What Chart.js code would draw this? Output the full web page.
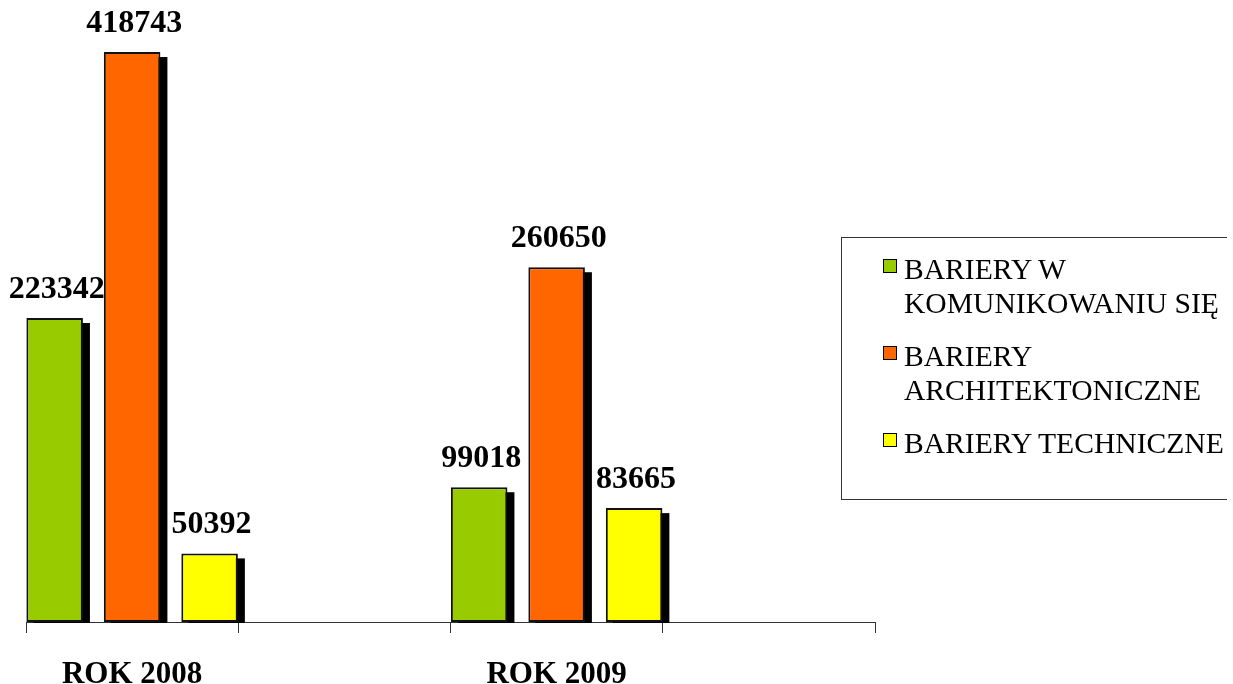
<!DOCTYPE html>
<html>
<head>
<meta charset="utf-8">
<script src="https://cdn.jsdelivr.net/npm/chart.js@4"></script>
<style>
  body { margin: 0; background: #fff; overflow: hidden; }
  #wrap { position: relative; width: 1233px; height: 684px; }
  #legend {
    position: absolute; left: 841px; top: 237px; width: 386px; height: 263px;
    border: 1px solid #333; border-right: none; box-sizing: border-box; padding-top: 14px;
    font-family: "Liberation Serif", serif; font-size: 29.6px; color: #000;
  }
  .item { position: relative; padding-left: 62px; width: 330px; line-height: 34px; margin-bottom: 19px; }
  .sw { position: absolute; left: 41px; top: 7px; width: 12px; height: 12px; border: 1.5px solid #000; }
</style>
</head>
<body>
<div id="wrap">
  <canvas id="myChart" width="1233" height="684"></canvas>
  <div id="legend"></div>
</div>
<script>
const years = ['ROK 2008', 'ROK 2009'];
const seriesNames = ['BARIERY W KOMUNIKOWANIU SIĘ', 'BARIERY ARCHITEKTONICZNE', 'BARIERY TECHNICZNE'];
const komunikowanie = [223342, 99018];
const architektoniczne = [418743, 260650];
const techniczne = [50392, 83665];
const colors = ['#99cc00', '#ff6600', '#ffff00'];

// each year gets an empty slot after it, like the original axis
const labels = years.flatMap(y => [y, '']);
const spread = arr => arr.flatMap(v => [v, null]);

// black drop shadow behind every bar
const shadow = {
  id: 'shadow',
  beforeDatasetsDraw(chart) {
    const ctx = chart.ctx;
    const area = chart.chartArea;
    ctx.save();
    ctx.beginPath();
    ctx.rect(0, 0, chart.width, area.bottom + 1);
    ctx.clip();
    ctx.fillStyle = '#000';
    chart.data.datasets.forEach((ds, i) => {
      chart.getDatasetMeta(i).data.forEach((bar, j) => {
        if (ds.data[j] == null) return;
        const p = bar.getProps(['x', 'y', 'base', 'width']);
        ctx.fillRect(p.x - p.width / 2 + 7, p.y + 5, p.width, p.base - p.y);
      });
    });
    ctx.restore();
  }
};

const valueLabels = {
  id: 'valueLabels',
  afterDraw(chart) {
    const ctx = chart.ctx;
    ctx.save();
    ctx.font = 'bold 32px "Liberation Serif"';
    ctx.fillStyle = '#000';
    ctx.textAlign = 'center';
    ctx.textBaseline = 'alphabetic';
    chart.data.datasets.forEach((ds, i) => {
      chart.getDatasetMeta(i).data.forEach((bar, j) => {
        if (ds.data[j] == null) return;
        ctx.fillText(ds.data[j], bar.x + 2, bar.y - 20);
      });
    });
    ctx.restore();
  }
};

const config = {
  type: 'bar',
  data: {
    labels: labels,
    datasets: [
      { label: seriesNames[0], data: spread(komunikowanie), backgroundColor: colors[0] },
      { label: seriesNames[1], data: spread(architektoniczne), backgroundColor: colors[1] },
      { label: seriesNames[2], data: spread(techniczne), backgroundColor: colors[2] }
    ]
  },
  options: {
    responsive: false,
    animation: false,
    layout: { padding: { top: 9.5, left: 26, right: 358, bottom: 0 } },
    datasets: {
      bar: {
        categoryPercentage: 1.095,
        barPercentage: 0.73,
        borderColor: '#111',
        borderWidth: 2,
        borderSkipped: false,
        skipNull: true
      }
    },
    plugins: {
      legend: { display: false },
      tooltip: { enabled: false }
    },
    scales: {
      x: {
        afterFit(scale) { scale.height = 62; },
        border: { color: '#333', width: 1 },
        grid: { drawOnChartArea: false, color: '#333', tickLength: 11, offset: true },
        ticks: {
          color: '#000',
          padding: 23,
          font: { family: 'Liberation Serif', size: 31, weight: 'bold' }
        }
      },
      y: {
        display: false,
        min: 0,
        max: 450000
      }
    }
  },
  plugins: [shadow, valueLabels]
};

const myChart = new Chart(document.getElementById('myChart'), config);

const legend = document.getElementById('legend');
myChart.data.datasets.forEach(ds => {
  const item = document.createElement('div');
  item.className = 'item';
  const sw = document.createElement('span');
  sw.className = 'sw';
  sw.style.background = ds.backgroundColor;
  item.appendChild(sw);
  item.appendChild(document.createTextNode(ds.label));
  legend.appendChild(item);
});
</script>
</body>
</html>
